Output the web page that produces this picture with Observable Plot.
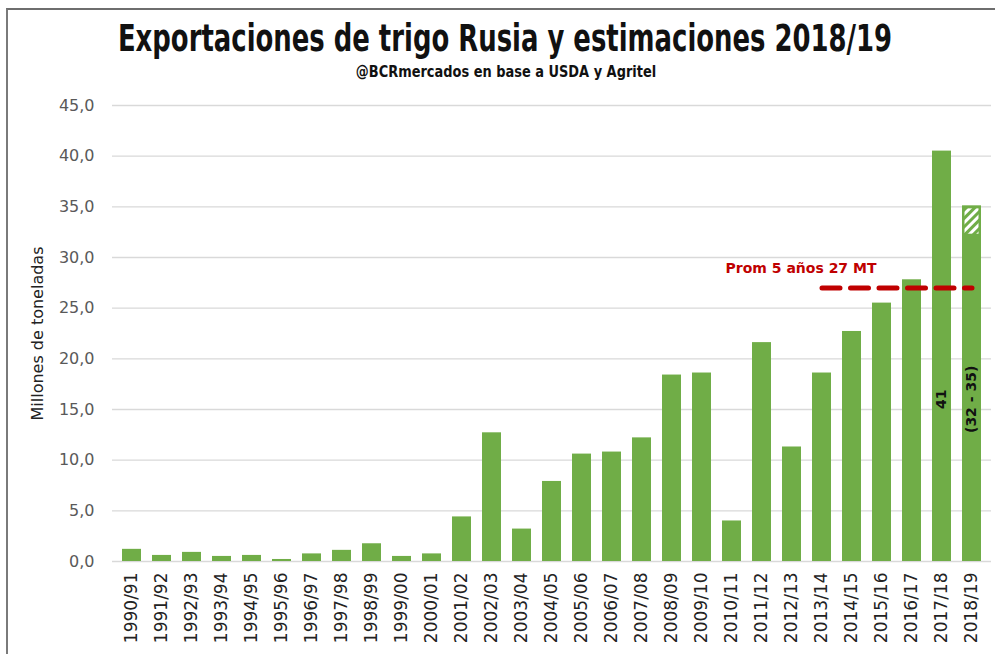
<!DOCTYPE html>
<html>
<head>
<meta charset="utf-8">
<script src="https://cdn.jsdelivr.net/npm/d3@7"></script>
<script src="https://cdn.jsdelivr.net/npm/@observablehq/plot@0.6"></script>
<style>
  html, body { margin: 0; padding: 0; background: #fff; }
  #wrap { position: relative; width: 995px; height: 654px; overflow: hidden; background: #fff; }
  #border { position: absolute; left: 6px; top: 8px; right: -10px; bottom: -10px;
            border-top: 2px solid #6e6e6e; border-left: 2px solid #7a7a7a; }
  #title { position: absolute; left: -295px; width: 1600px; top: 17px; text-align: center;
           font-family: "DejaVu Sans", sans-serif; transform: scaleX(0.70); transform-origin: 800px 0;
           font-weight: bold; font-size: 37px; color: #111; white-space: nowrap; }
  #subtitle { position: absolute; left: -294px; width: 1600px; top: 62px; text-align: center;
           font-family: "DejaVu Sans", sans-serif; transform: scaleX(0.81); transform-origin: 800px 0;
           font-weight: bold; font-size: 16px; color: #111; white-space: nowrap; }
  #chart { position: absolute; left: 0; top: 90px; }
</style>
</head>
<body>
<div id="wrap">
  <div id="border"></div>
  <div id="title">Exportaciones de trigo Rusia y estimaciones 2018/19</div>
  <div id="subtitle">@BCRmercados en base a USDA y Agritel</div>
  <div id="chart"></div>
</div>
<script>
// Categories (marketing years)
const seasons = ["1990/91","1991/92","1992/93","1993/94","1994/95","1995/96","1996/97","1997/98","1998/99","1999/00",
  "2000/01","2001/02","2002/03","2003/04","2004/05","2005/06","2006/07","2007/08","2008/09","2009/10",
  "2010/11","2011/12","2012/13","2013/14","2014/15","2015/16","2016/17","2017/18","2018/19"];
// Exports, million tonnes
const exportsMt = [1.2, 0.6, 0.9, 0.5, 0.6, 0.2, 0.75, 1.1, 1.75, 0.5,
  0.75, 4.4, 12.7, 3.2, 7.9, 10.6, 10.8, 12.2, 18.4, 18.6,
  4.0, 21.6, 11.3, 18.6, 22.7, 25.5, 27.8, 40.5, 35.1];
// Estimate range for 2018/19 (hatched part)
const rangeSeason = ["2018/19"];
const rangeLow = [32.3];
const rangeHigh = [34.8];
// 5-year average
const avgSeasons = ["2013/14","2014/15","2015/16","2016/17","2017/18","2018/19"];
const avgValue = 27;
const avgLabel = ["Prom 5 años 27 MT"];
// In-bar labels
const barLabelSeasons = ["2017/18","2018/19"];
const barLabels = ["41","(32 - 35)"];
const yTicks = [0,5,10,15,20,25,30,35,40,45];
const yTitle = "Millones de toneladas";

const data = seasons.map((s, i) => ({season: s, value: exportsMt[i]}));
const rangeData = rangeSeason.map((s, i) => ({season: s, lo: rangeLow[i], hi: rangeHigh[i]}));
const avgData = avgSeasons.map(s => ({season: s, value: avgValue}));
const labelData = barLabelSeasons.map((s, i) => ({season: s, text: barLabels[i]}));

const green = "#70ad47";
const chart = Plot.plot({
  width: 995,
  height: 564,
  marginTop: 15,
  marginBottom: 93,
  marginLeft: 112,
  marginRight: 4,
  style: {fontFamily: "'DejaVu Sans', sans-serif", fontSize: "15px", background: "transparent"},
  x: {domain: seasons, paddingInner: 0.37, paddingOuter: 0.185, label: null},
  y: {domain: [0, 45], label: null},
  marks: [
    Plot.gridY(yTicks, {stroke: "#d9d9d9", strokeOpacity: 1, strokeWidth: 1.3}),
    Plot.axisY(yTicks, {tickSize: 0, tickPadding: 18, fill: "#595959", fontSize: 16,
      tickFormat: d => d3.format(".1f")(d).replace(".", ","), label: null}),
    Plot.axisX({tickSize: 0, tickPadding: 11, tickRotate: -90, fill: "#222", fontSize: 17, label: null}),
    Plot.text([yTitle], {frameAnchor: "left", textAnchor: "middle", dx: -75, rotate: -90, fill: "#222", fontSize: 16}),
    Plot.barY(data, {x: "season", y: "value", fill: green}),
    Plot.barY(rangeData, {x: "season", y1: "lo", y2: "hi", fill: "url(#hatch)", insetLeft: 2.5, insetRight: 2.5}),
    Plot.lineY(avgData, {x: "season", y: "value", stroke: "#c00000", strokeWidth: 5,
      strokeDasharray: "18 10.5", strokeLinecap: "round"}),
    Plot.text(avgLabel, {x: () => "2012/13", y: () => 28.9, dx: 9, fill: "#c00000",
      fontWeight: "bold", fontSize: 14}),
    Plot.text(labelData, {x: "season", y: () => 16, text: "text", rotate: -90, fill: "#111",
      fontWeight: "bold", fontSize: 14})
  ]
});

// hatch pattern definition
const svg = d3.select(chart);
const defs = svg.insert("defs", ":first-child");
const pat = defs.append("pattern").attr("id", "hatch").attr("patternUnits", "userSpaceOnUse")
  .attr("width", 6).attr("height", 6).attr("patternTransform", "rotate(45)");
pat.append("rect").attr("width", 6).attr("height", 6).attr("fill", green);
pat.append("rect").attr("width", 3).attr("height", 6).attr("fill", "#fff");

document.getElementById("chart").appendChild(chart);
</script>
</body>
</html>
